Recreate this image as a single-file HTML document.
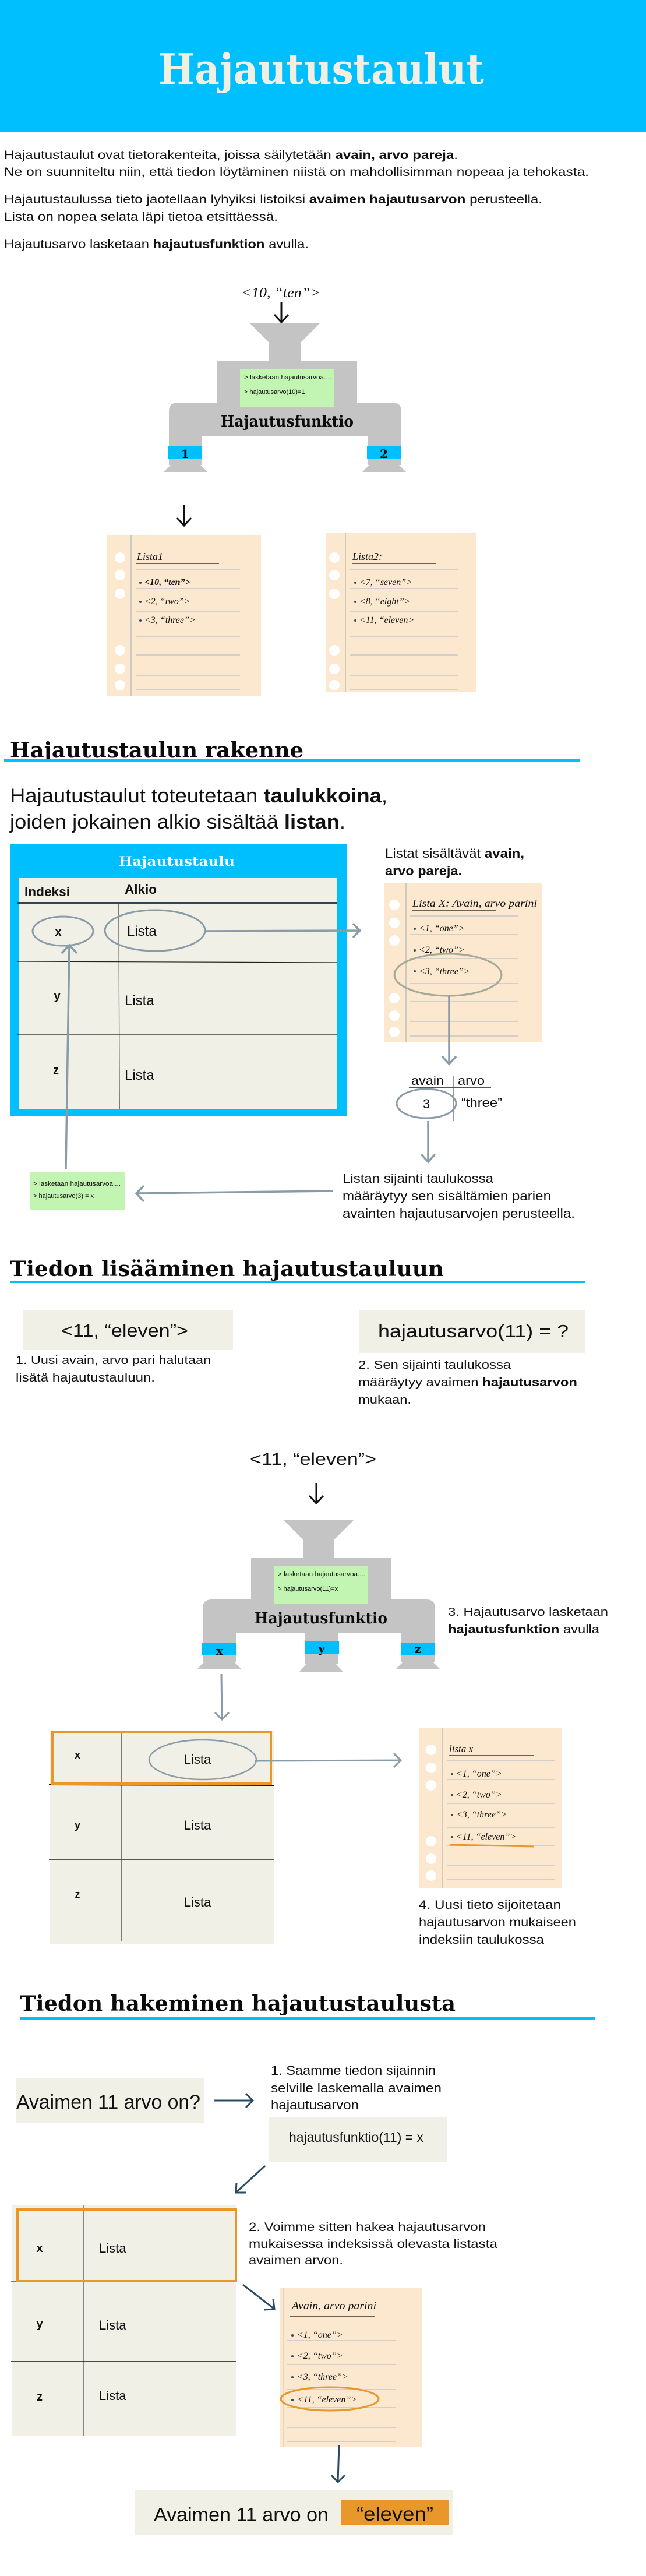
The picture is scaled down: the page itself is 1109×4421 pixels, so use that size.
<!DOCTYPE html>
<html><head><meta charset="utf-8"><style>
html,body{margin:0;padding:0;background:#fff}
svg{display:block}
.s{font-family:"Liberation Sans",sans-serif;fill:#111}
.h{font-family:"DejaVu Serif","Liberation Serif",serif;font-weight:bold;fill:#0b0b0b}
.w{font-family:"Liberation Serif",serif;font-style:italic;fill:#111}
.b{font-weight:bold}
</style></head><body>
<svg width="1109" height="4421" viewBox="0 0 1109 4421" xmlns="http://www.w3.org/2000/svg">
<defs>
<g id="mach">
 <polygon points="486,2608 608,2608 574,2642 574,2674 520,2674 520,2642" fill="#c4c4c4"/>
 <rect x="431" y="2674" width="240" height="128" fill="#c4c4c4"/>
 <path d="M348,2802 V2760 Q348,2745 363,2745 H732 Q747,2745 747,2760 V2802 Z" fill="#c4c4c4"/>
 <rect x="470" y="2687" width="162" height="66" fill="#c2f5b2"/>
</g>
<g id="leg">
 <rect x="0" y="0" width="57" height="50" fill="#c4c4c4"/>
 <polygon points="5,48 52,48 66,62 -9,62" fill="#c4c4c4"/>
</g>
</defs>

<!-- HEADER -->
<rect x="0" y="0" width="1109" height="227" fill="#00bfff"/>
<text x="272" y="144" class="h" font-size="72" fill="#f1efe4" style="fill:#f1efe4" textLength="559" lengthAdjust="spacingAndGlyphs">Hajautustaulut</text>

<text x="7" y="273" class="s" font-size="21" textLength="779" lengthAdjust="spacingAndGlyphs">Hajautustaulut ovat tietorakenteita, joissa säilytetään <tspan class="b">avain, arvo pareja</tspan>.</text>
<text x="7" y="302" class="s" font-size="21" textLength="1004" lengthAdjust="spacingAndGlyphs">Ne on suunniteltu niin, että tiedon löytäminen niistä on mahdollisimman nopeaa ja tehokasta.</text>
<text x="7" y="349" class="s" font-size="21" textLength="924" lengthAdjust="spacingAndGlyphs">Hajautustaulussa tieto jaotellaan lyhyiksi listoiksi <tspan class="b">avaimen hajautusarvon</tspan> perusteella.</text>
<text x="7" y="379" class="s" font-size="21" textLength="470" lengthAdjust="spacingAndGlyphs">Lista on nopea selata läpi tietoa etsittäessä.</text>
<text x="7" y="426" class="s" font-size="21" textLength="523" lengthAdjust="spacingAndGlyphs">Hajautusarvo lasketaan <tspan class="b">hajautusfunktion</tspan> avulla.</text>

<!-- machine 1 -->
<text x="414" y="510" class="w" font-size="24" textLength="136" lengthAdjust="spacingAndGlyphs">&lt;10, “ten”&gt;</text>
<path d="M483,518 V553 M471,540 L483,553 L495,540" stroke="#111" stroke-width="3" fill="none"/>
<g transform="translate(-58,-2054)">
 <use href="#mach"/>
 <use href="#leg" transform="translate(348,2802)"/>
 <use href="#leg" transform="translate(689,2802)"/>
 <rect x="346" y="2819" width="59" height="22" fill="#00bfff"/>
 <rect x="688" y="2819" width="59" height="22" fill="#00bfff"/>
 <text x="376" y="2840" class="h" font-size="20" text-anchor="middle">1</text>
 <text x="717" y="2840" class="h" font-size="20" text-anchor="middle">2</text>
 <text x="477" y="2705" class="s" font-size="11" textLength="150" lengthAdjust="spacingAndGlyphs">&gt; lasketaan hajautusarvoa....</text>
 <text x="477" y="2730" class="s" font-size="11">&gt; hajautusarvo(10)=1</text>
 <text x="437" y="2786" class="h" font-size="26" textLength="228" lengthAdjust="spacingAndGlyphs">Hajautusfunktio</text>
</g>
<path d="M316,867 V902 M304,889 L316,902 L328,889" stroke="#111" stroke-width="3" fill="none"/>

<!-- notebook list1 -->
<rect x="184" y="919" width="264" height="275" fill="#fbe8cf"/>
<line x1="225" y1="919" x2="225" y2="1194" stroke="#cfcac0" stroke-width="2"/>
<g fill="#fff"><circle cx="206" cy="957" r="9"/><circle cx="206" cy="987" r="9"/><circle cx="206" cy="1019" r="9"/><circle cx="206" cy="1116" r="9"/><circle cx="206" cy="1148" r="9"/><circle cx="206" cy="1176" r="9"/></g>
<g stroke="#c5c8cc" stroke-width="1.5"><line x1="233" y1="977" x2="412" y2="977"/><line x1="233" y1="1010" x2="412" y2="1010"/><line x1="233" y1="1050" x2="412" y2="1050"/><line x1="233" y1="1093" x2="412" y2="1093"/><line x1="233" y1="1124" x2="412" y2="1124"/><line x1="233" y1="1159" x2="412" y2="1159"/><line x1="233" y1="1183" x2="412" y2="1183"/></g>
<line x1="233" y1="967" x2="376" y2="967" stroke="#111" stroke-width="1.2"/>
<text x="235" y="961" class="w" font-size="18">Lista1</text>
<g fill="#2b4a63"><circle cx="241" cy="1000" r="2"/><circle cx="241" cy="1033" r="2"/><circle cx="241" cy="1065" r="2"/></g>
<text x="248" y="1004" class="w b" font-size="16">&lt;10, “ten”&gt;</text>
<text x="248" y="1037" class="w" font-size="16">&lt;2, “two”&gt;</text>
<text x="248" y="1069" class="w" font-size="16">&lt;3, “three”&gt;</text>

<!-- notebook list2 -->
<rect x="559" y="915" width="259" height="273" fill="#fbe8cf"/>
<line x1="593" y1="915" x2="593" y2="1188" stroke="#cfcac0" stroke-width="2"/>
<g fill="#fff"><circle cx="574" cy="957" r="9"/><circle cx="574" cy="987" r="9"/><circle cx="574" cy="1019" r="9"/><circle cx="574" cy="1116" r="9"/><circle cx="574" cy="1148" r="9"/><circle cx="574" cy="1176" r="9"/></g>
<g stroke="#c5c8cc" stroke-width="1.5"><line x1="601" y1="977" x2="787" y2="977"/><line x1="601" y1="1010" x2="787" y2="1010"/><line x1="601" y1="1050" x2="787" y2="1050"/><line x1="601" y1="1093" x2="787" y2="1093"/><line x1="601" y1="1124" x2="787" y2="1124"/><line x1="601" y1="1159" x2="787" y2="1159"/><line x1="601" y1="1183" x2="787" y2="1183"/></g>
<line x1="604" y1="967" x2="749" y2="967" stroke="#111" stroke-width="1.2"/>
<text x="605" y="961" class="w" font-size="18">Lista2:</text>
<g fill="#2b4a63"><circle cx="610" cy="1000" r="2"/><circle cx="610" cy="1033" r="2"/><circle cx="610" cy="1065" r="2"/></g>
<text x="617" y="1004" class="w" font-size="16">&lt;7, “seven”&gt;</text>
<text x="617" y="1037" class="w" font-size="16">&lt;8, “eight”&gt;</text>
<text x="617" y="1069" class="w" font-size="16">&lt;11, “eleven&gt;</text>

<!-- SECTION 2 -->
<text x="17" y="1300" class="h" font-size="36" textLength="504" lengthAdjust="spacingAndGlyphs">Hajautustaulun rakenne</text>
<rect x="7" y="1303" width="988" height="4" fill="#00bfff"/>
<text x="17" y="1377" class="s" font-size="34" textLength="648" lengthAdjust="spacingAndGlyphs">Hajautustaulut toteutetaan <tspan class="b">taulukkoina</tspan>,</text>
<text x="17" y="1422" class="s" font-size="34" textLength="576" lengthAdjust="spacingAndGlyphs">joiden jokainen alkio sisältää <tspan class="b">listan</tspan>.</text>

<rect x="17" y="1448" width="578" height="467" fill="#00bfff"/>
<text x="204" y="1486" class="h" font-size="22" style="fill:#fff" textLength="199" lengthAdjust="spacingAndGlyphs">Hajautustaulu</text>
<rect x="32" y="1507" width="547" height="396" fill="#f1f0e6"/>
<text x="42" y="1538" class="s b" font-size="22" textLength="78" lengthAdjust="spacingAndGlyphs">Indeksi</text>
<text x="214" y="1534" class="s b" font-size="22" textLength="55" lengthAdjust="spacingAndGlyphs">Alkio</text>
<rect x="29" y="1548" width="550" height="3" fill="#2c4657"/>
<line x1="204" y1="1552" x2="205" y2="1903" stroke="#222" stroke-width="1.2"/>
<line x1="29" y1="1650" x2="579" y2="1652" stroke="#222" stroke-width="1.2"/>
<line x1="29" y1="1775" x2="579" y2="1775" stroke="#222" stroke-width="1.2"/>
<text x="100" y="1606" class="s b" font-size="20" text-anchor="middle">x</text>
<text x="218" y="1606" class="s" font-size="24">Lista</text>
<text x="98" y="1716" class="s b" font-size="20" text-anchor="middle">y</text>
<text x="214" y="1725" class="s" font-size="24">Lista</text>
<text x="96" y="1843" class="s b" font-size="20" text-anchor="middle">z</text>
<text x="214" y="1853" class="s" font-size="24">Lista</text>
<ellipse cx="108" cy="1598" rx="52" ry="25" fill="none" stroke="#8a9ba8" stroke-width="3"/>
<ellipse cx="266" cy="1597" rx="86" ry="35" fill="none" stroke="#8a9ba8" stroke-width="3"/>
<path d="M352,1598 L618,1597 M606,1585 L618,1597 L606,1609" stroke="#8a9ba8" stroke-width="3.5" fill="none"/>
<path d="M113,2007 L119,1625 M106,1636 L119,1622 L132,1636" stroke="#8a9ba8" stroke-width="3.5" fill="none"/>
<rect x="52" y="2012" width="162" height="65" fill="#c2f5b2"/>
<text x="57" y="2035" class="s" font-size="11" textLength="150" lengthAdjust="spacingAndGlyphs">&gt; lasketaan hajautusarvoa....</text>
<text x="57" y="2056" class="s" font-size="11">&gt; hajautusarvo(3) = x</text>
<path d="M571,2044 L235,2048 M247,2035 L234,2048 L247,2062" stroke="#8a9ba8" stroke-width="3.5" fill="none"/>

<text x="661" y="1472" class="s" font-size="22" textLength="239" lengthAdjust="spacingAndGlyphs">Listat sisältävät <tspan class="b">avain,</tspan></text>
<text x="661" y="1502" class="s b" font-size="22" textLength="132" lengthAdjust="spacingAndGlyphs">arvo pareja.</text>

<rect x="660" y="1515" width="270" height="273" fill="#fbe8cf"/>
<line x1="697" y1="1515" x2="697" y2="1788" stroke="#cfcac0" stroke-width="2"/>
<g fill="#fff"><circle cx="677" cy="1553" r="9"/><circle cx="677" cy="1584" r="9"/><circle cx="677" cy="1614" r="9"/><circle cx="677" cy="1713" r="9"/><circle cx="677" cy="1743" r="9"/><circle cx="677" cy="1771" r="9"/></g>
<g stroke="#c5c8cc" stroke-width="1.5"><line x1="704" y1="1572" x2="890" y2="1572"/><line x1="704" y1="1604" x2="890" y2="1604"/><line x1="704" y1="1645" x2="890" y2="1645"/><line x1="704" y1="1688" x2="890" y2="1688"/><line x1="704" y1="1719" x2="890" y2="1719"/><line x1="704" y1="1753" x2="890" y2="1753"/><line x1="704" y1="1778" x2="890" y2="1778"/></g>
<line x1="707" y1="1562" x2="852" y2="1562" stroke="#111" stroke-width="1.2"/>
<text x="708" y="1556" class="w" font-size="18" textLength="214" lengthAdjust="spacingAndGlyphs">Lista X: Avain, arvo parini</text>
<g fill="#2b4a63"><circle cx="712" cy="1594" r="2"/><circle cx="712" cy="1631" r="2"/><circle cx="712" cy="1667" r="2"/></g>
<text x="719" y="1598" class="w" font-size="16">&lt;1, “one”&gt;</text>
<text x="719" y="1635" class="w" font-size="16">&lt;2, “two”&gt;</text>
<text x="719" y="1672" class="w" font-size="16">&lt;3, “three”&gt;</text>
<ellipse cx="769" cy="1673" rx="92" ry="36" fill="none" stroke="#a3a897" stroke-width="3"/>
<path d="M771,1709 L771,1826 M759,1813 L771,1826 L783,1813" stroke="#8a9ba8" stroke-width="3.5" fill="none"/>

<text x="706" y="1862" class="s" font-size="22" textLength="56" lengthAdjust="spacingAndGlyphs">avain</text>
<text x="786" y="1862" class="s" font-size="22" textLength="46" lengthAdjust="spacingAndGlyphs">arvo</text>
<line x1="702" y1="1866" x2="843" y2="1866" stroke="#555" stroke-width="2"/>
<line x1="778" y1="1847" x2="778" y2="1924" stroke="#555" stroke-width="1.2"/>
<ellipse cx="732" cy="1894" rx="51" ry="25" fill="none" stroke="#8a9ba8" stroke-width="3"/>
<text x="732" y="1902" class="s" font-size="22" text-anchor="middle">3</text>
<text x="792" y="1900" class="s" font-size="22" textLength="70" lengthAdjust="spacingAndGlyphs">“three”</text>
<path d="M735,1924 L735,1994 M723,1981 L735,1994 L747,1981" stroke="#8a9ba8" stroke-width="3.5" fill="none"/>
<text x="588" y="2030" class="s" font-size="22" textLength="259" lengthAdjust="spacingAndGlyphs">Listan sijainti taulukossa</text>
<text x="588" y="2060" class="s" font-size="22" textLength="358" lengthAdjust="spacingAndGlyphs">määräytyy sen sisältämien parien</text>
<text x="588" y="2090" class="s" font-size="22" textLength="399" lengthAdjust="spacingAndGlyphs">avainten hajautusarvojen perusteella.</text>

<!-- SECTION 3 -->
<text x="17" y="2190" class="h" font-size="36" textLength="745" lengthAdjust="spacingAndGlyphs">Tiedon lisääminen hajautustauluun</text>
<rect x="17" y="2198" width="988" height="4" fill="#00bfff"/>
<rect x="40" y="2249" width="360" height="68" fill="#f1f0e6"/>
<text x="105" y="2294" class="s" font-size="31" textLength="218" lengthAdjust="spacingAndGlyphs">&lt;11, “eleven”&gt;</text>
<text x="27" y="2341" class="s" font-size="20" textLength="335" lengthAdjust="spacingAndGlyphs">1. Uusi avain, arvo pari halutaan</text>
<text x="27" y="2371" class="s" font-size="20" textLength="239" lengthAdjust="spacingAndGlyphs">lisätä hajautustauluun.</text>
<rect x="617" y="2249" width="387" height="73" fill="#f1f0e6"/>
<text x="649" y="2295" class="s" font-size="31" textLength="327" lengthAdjust="spacingAndGlyphs">hajautusarvo(11) = ?</text>
<text x="615" y="2349" class="s" font-size="20" textLength="262" lengthAdjust="spacingAndGlyphs">2. Sen sijainti taulukossa</text>
<text x="615" y="2379" class="s" font-size="20" textLength="376" lengthAdjust="spacingAndGlyphs">määräytyy avaimen <tspan class="b">hajautusarvon</tspan></text>
<text x="615" y="2409" class="s" font-size="20" textLength="91" lengthAdjust="spacingAndGlyphs">mukaan.</text>

<text x="429" y="2514" class="s" font-size="30" textLength="217" lengthAdjust="spacingAndGlyphs">&lt;11, “eleven”&gt;</text>
<path d="M543,2545 V2580 M531,2567 L543,2580 L555,2567" stroke="#111" stroke-width="3" fill="none"/>
<use href="#mach"/>
<use href="#leg" transform="translate(348,2802)"/>
<use href="#leg" transform="translate(523,2802) scale(1,1.08)"/>
<use href="#leg" transform="translate(689,2802)"/>
<rect x="346" y="2819" width="59" height="22" fill="#00bfff"/>
<rect x="523" y="2816" width="59" height="22" fill="#00bfff"/>
<rect x="688" y="2819" width="59" height="22" fill="#00bfff"/>
<text x="377" y="2840" class="h" font-size="20" text-anchor="middle">x</text>
<text x="552" y="2836" class="h" font-size="20" text-anchor="middle">y</text>
<text x="717" y="2837" class="h" font-size="20" text-anchor="middle">z</text>
<text x="477" y="2705" class="s" font-size="11" textLength="150" lengthAdjust="spacingAndGlyphs">&gt; lasketaan hajautusarvoa....</text>
<text x="477" y="2730" class="s" font-size="11">&gt; hajautusarvo(11)=x</text>
<text x="437" y="2786" class="h" font-size="26" textLength="228" lengthAdjust="spacingAndGlyphs">Hajautusfunktio</text>
<text x="769" y="2773" class="s" font-size="20" textLength="275" lengthAdjust="spacingAndGlyphs">3. Hajautusarvo lasketaan</text>
<text x="769" y="2803" class="s" font-size="20" textLength="260" lengthAdjust="spacingAndGlyphs"><tspan class="b">hajautusfunktion</tspan> avulla</text>
<path d="M380,2873 L381,2951 M369,2939 L381,2951 L393,2939" stroke="#8a9ba8" stroke-width="3" fill="none"/>

<rect x="86" y="2970" width="384" height="367" fill="#f1f0e6"/>
<line x1="208" y1="2970" x2="208" y2="3332" stroke="#555" stroke-width="1.5"/>
<line x1="84" y1="3063" x2="470" y2="3064" stroke="#111" stroke-width="2"/>
<line x1="84" y1="3191" x2="470" y2="3191" stroke="#555" stroke-width="2"/>
<rect x="90" y="2973" width="375" height="88" fill="none" stroke="#e8982a" stroke-width="4"/>
<text x="133" y="3018" class="s b" font-size="18" text-anchor="middle">x</text>
<ellipse cx="348" cy="3020" rx="92" ry="34" fill="none" stroke="#8a9ba8" stroke-width="2.5"/>
<text x="339" y="3027" class="s" font-size="22" text-anchor="middle">Lista</text>
<text x="133" y="3138" class="s b" font-size="18" text-anchor="middle">y</text>
<text x="339" y="3140" class="s" font-size="22" text-anchor="middle">Lista</text>
<text x="133" y="3257" class="s b" font-size="18" text-anchor="middle">z</text>
<text x="339" y="3272" class="s" font-size="22" text-anchor="middle">Lista</text>
<path d="M438,3022 L688,3021 M676,3009 L688,3021 L676,3033" stroke="#8a9ba8" stroke-width="3" fill="none"/>

<rect x="720" y="2966" width="244" height="274" fill="#fbe8cf"/>
<line x1="760" y1="2966" x2="760" y2="3240" stroke="#cfcac0" stroke-width="2"/>
<g fill="#fff"><circle cx="740" cy="3003" r="9"/><circle cx="740" cy="3034" r="9"/><circle cx="740" cy="3064" r="9"/><circle cx="740" cy="3160" r="9"/><circle cx="740" cy="3190" r="9"/><circle cx="740" cy="3219" r="9"/></g>
<g stroke="#c5c8cc" stroke-width="1.5"><line x1="767" y1="3022" x2="953" y2="3022"/><line x1="767" y1="3054" x2="953" y2="3054"/><line x1="767" y1="3095" x2="953" y2="3095"/><line x1="767" y1="3137" x2="953" y2="3137"/><line x1="767" y1="3168" x2="953" y2="3168"/><line x1="767" y1="3202" x2="953" y2="3202"/><line x1="767" y1="3225" x2="953" y2="3225"/></g>
<line x1="770" y1="3013" x2="916" y2="3013" stroke="#111" stroke-width="1.2"/>
<text x="771" y="3007" class="w" font-size="17">lista x</text>
<g fill="#2b4a63"><circle cx="776" cy="3045" r="2"/><circle cx="776" cy="3081" r="2"/><circle cx="776" cy="3115" r="2"/><circle cx="776" cy="3153" r="2"/></g>
<text x="783" y="3049" class="w" font-size="16">&lt;1, “one”&gt;</text>
<text x="783" y="3085" class="w" font-size="16">&lt;2, “two”&gt;</text>
<text x="783" y="3119" class="w" font-size="16">&lt;3, “three”&gt;</text>
<text x="783" y="3157" class="w" font-size="16">&lt;11, “eleven”&gt;</text>
<line x1="773" y1="3166" x2="917" y2="3169" stroke="#e8982a" stroke-width="3"/>
<text x="719" y="3276" class="s" font-size="21" textLength="244" lengthAdjust="spacingAndGlyphs">4. Uusi tieto sijoitetaan</text>
<text x="719" y="3306" class="s" font-size="21" textLength="270" lengthAdjust="spacingAndGlyphs">hajautusarvon mukaiseen</text>
<text x="719" y="3336" class="s" font-size="21" textLength="215" lengthAdjust="spacingAndGlyphs">indeksiin taulukossa</text>

<!-- SECTION 4 -->
<text x="34" y="3451" class="h" font-size="36" textLength="748" lengthAdjust="spacingAndGlyphs">Tiedon hakeminen hajautustaulusta</text>
<rect x="34" y="3462" width="988" height="4" fill="#00bfff"/>
<rect x="27" y="3567" width="323" height="77" fill="#f1f0e6"/>
<text x="28" y="3619" class="s" font-size="34" textLength="316" lengthAdjust="spacingAndGlyphs">Avaimen 11 arvo on?</text>
<path d="M368,3605 L434,3605 M422,3593 L434,3605 L422,3617" stroke="#2b4a63" stroke-width="3" fill="none"/>
<text x="465" y="3561" class="s" font-size="22" textLength="283" lengthAdjust="spacingAndGlyphs">1. Saamme tiedon sijainnin</text>
<text x="465" y="3591" class="s" font-size="22" textLength="293" lengthAdjust="spacingAndGlyphs">selville laskemalla avaimen</text>
<text x="465" y="3620" class="s" font-size="22" textLength="151" lengthAdjust="spacingAndGlyphs">hajautusarvon</text>
<rect x="462" y="3633" width="306" height="78" fill="#f1f0e6"/>
<text x="496" y="3676" class="s" font-size="23" textLength="231" lengthAdjust="spacingAndGlyphs">hajautusfunktio(11) = x</text>
<path d="M455,3717 L406,3762 M406,3746 L405,3763 L422,3763" stroke="#2b4a63" stroke-width="3" fill="none"/>

<rect x="21" y="3784" width="384" height="397" fill="#f1f0e6"/>
<line x1="143" y1="3784" x2="143" y2="4181" stroke="#666" stroke-width="1.5"/>
<line x1="19" y1="3916" x2="405" y2="3916" stroke="#333" stroke-width="1.2"/>
<line x1="19" y1="4053" x2="405" y2="4053" stroke="#111" stroke-width="1.5"/>
<rect x="30" y="3792" width="375" height="123" fill="none" stroke="#e8982a" stroke-width="4"/>
<text x="68" y="3865" class="s b" font-size="20" text-anchor="middle">x</text>
<text x="170" y="3866" class="s" font-size="22">Lista</text>
<text x="68" y="3995" class="s b" font-size="20" text-anchor="middle">y</text>
<text x="170" y="3998" class="s" font-size="22">Lista</text>
<text x="68" y="4120" class="s b" font-size="20" text-anchor="middle">z</text>
<text x="170" y="4119" class="s" font-size="22">Lista</text>
<text x="427" y="3829" class="s" font-size="21" textLength="407" lengthAdjust="spacingAndGlyphs">2. Voimme sitten hakea hajautusarvon</text>
<text x="427" y="3858" class="s" font-size="21" textLength="427" lengthAdjust="spacingAndGlyphs">mukaisessa indeksissä olevasta listasta</text>
<text x="427" y="3886" class="s" font-size="21" textLength="162" lengthAdjust="spacingAndGlyphs">avaimen arvon.</text>
<path d="M417,3921 L470,3962 M453,3964 L471,3963 L469,3946" stroke="#2b4a63" stroke-width="3" fill="none"/>

<rect x="481" y="3927" width="244" height="273" fill="#fbe8cf"/>
<line x1="487" y1="3927" x2="487" y2="4200" stroke="#d6cfc2" stroke-width="1.5"/>
<g stroke="#c5c8cc" stroke-width="1.5"><line x1="493" y1="4017" x2="679" y2="4017"/><line x1="493" y1="4058" x2="679" y2="4058"/><line x1="493" y1="4101" x2="679" y2="4101"/><line x1="493" y1="4132" x2="679" y2="4132"/><line x1="493" y1="4166" x2="679" y2="4166"/><line x1="493" y1="4190" x2="679" y2="4190"/></g>
<line x1="497" y1="3976" x2="643" y2="3976" stroke="#111" stroke-width="1.2"/>
<text x="501" y="3963" class="w" font-size="18" textLength="145" lengthAdjust="spacingAndGlyphs">Avain, arvo parini</text>
<g fill="#2b4a63"><circle cx="502" cy="4008" r="2"/><circle cx="502" cy="4044" r="2"/><circle cx="502" cy="4080" r="2"/><circle cx="502" cy="4119" r="2"/></g>
<text x="510" y="4012" class="w" font-size="16">&lt;1, “one”&gt;</text>
<text x="510" y="4048" class="w" font-size="16">&lt;2, “two”&gt;</text>
<text x="510" y="4084" class="w" font-size="16">&lt;3, “three”&gt;</text>
<text x="510" y="4123" class="w" font-size="16">&lt;11, “eleven”&gt;</text>
<ellipse cx="566" cy="4117" rx="84" ry="20" fill="none" stroke="#e8982a" stroke-width="3"/>
<path d="M582,4196 L580,4259 M569,4248 L580,4260 L592,4248" stroke="#2b4a63" stroke-width="3" fill="none"/>
<rect x="232" y="4274" width="545" height="77" fill="#f1f0e6"/>
<text x="264" y="4327" class="s" font-size="33" textLength="300" lengthAdjust="spacingAndGlyphs">Avaimen 11 arvo on</text>
<rect x="586" y="4291" width="184" height="43" fill="#e8982a"/>
<text x="612" y="4326" class="s" font-size="33" textLength="132" lengthAdjust="spacingAndGlyphs">“eleven”</text>
</svg>
</body></html>
